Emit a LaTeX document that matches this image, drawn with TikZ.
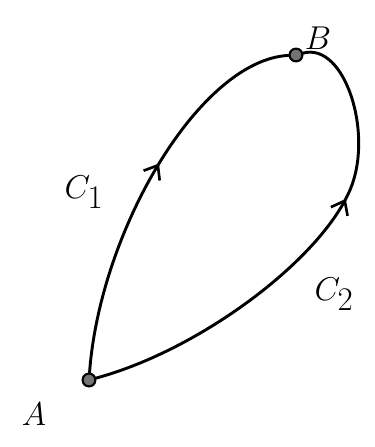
\documentclass[tikz,border=0pt]{standalone}
\usetikzlibrary{arrows.meta,decorations.markings}
\tikzset{pt/.style={circle,draw,line width=1.6pt,fill=black!55,minimum size=0.34cm,inner sep=0pt},
curve/.style={line width=2.2pt,line cap=round},
lab/.style={font=\fontsize{38}{38}\selectfont},
flow/.style={postaction={decorate},decoration={markings,
 mark=at position #1 with {\arrow[line width=2pt]{Straight Barb[length=3.2mm,width=5mm]}}}}}

\begin{document}
\begin{tikzpicture}[x=0.0265cm,y=-0.0265cm]
\useasboundingbox (0,0) rectangle (374,447);
\node[pt] (a) at (89,380) {};
\node[pt] (b) at (296,55) {};
\node[lab] (la) at (34,414) {$A$};
\node[lab] (lb) at (318,38) {$B$};
% the two paths from A to B
\draw[curve,flow=0.56] (a) .. controls (100,230) and (200,60) .. (b);
\draw[curve,flow=0.64] (a) .. controls (200,350) and (320,260) .. (350,190)
 .. controls (374,134) and (345,42) .. (b);
\node[lab] (c1) at (84,192) {$C_1$};
\node[lab] (c2) at (334,294) {$C_2$};
\end{tikzpicture}
\end{document}
